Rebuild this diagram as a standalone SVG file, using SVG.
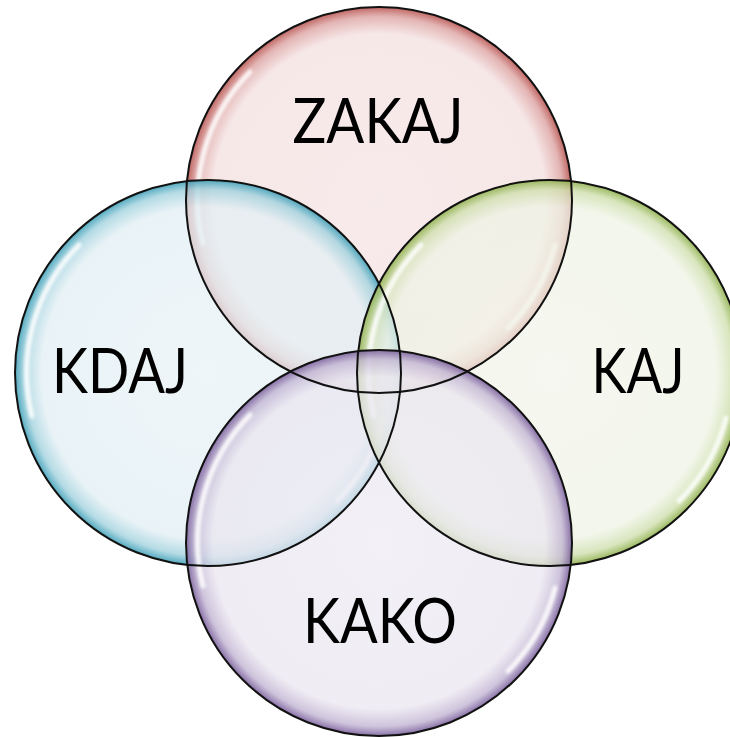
<svg xmlns="http://www.w3.org/2000/svg" width="730" height="737" viewBox="0 0 730 737">
<defs>
<radialGradient id="gRed" cx="0.5" cy="0.5" r="0.5">
<stop offset="0" stop-color="#f6e4e4" stop-opacity="0.75"/>
<stop offset="0.86" stop-color="#f4e0e0" stop-opacity="0.75"/>
<stop offset="0.95" stop-color="#dca3a2" stop-opacity="0.8"/>
<stop offset="1" stop-color="#b85450" stop-opacity="0.9"/>
</radialGradient>
<radialGradient id="gBlue" cx="0.5" cy="0.5" r="0.5">
<stop offset="0" stop-color="#e8f2f6" stop-opacity="0.75"/>
<stop offset="0.86" stop-color="#e2eff4" stop-opacity="0.75"/>
<stop offset="0.95" stop-color="#a2d2de" stop-opacity="0.8"/>
<stop offset="1" stop-color="#3e9fb8" stop-opacity="0.9"/>
</radialGradient>
<radialGradient id="gGreen" cx="0.5" cy="0.5" r="0.5">
<stop offset="0" stop-color="#f3f5eb" stop-opacity="0.75"/>
<stop offset="0.86" stop-color="#eff3e5" stop-opacity="0.75"/>
<stop offset="0.95" stop-color="#cfdfae" stop-opacity="0.8"/>
<stop offset="1" stop-color="#8fb04d" stop-opacity="0.9"/>
</radialGradient>
<radialGradient id="gPurple" cx="0.5" cy="0.5" r="0.5">
<stop offset="0" stop-color="#eeecf4" stop-opacity="0.75"/>
<stop offset="0.86" stop-color="#eae6f0" stop-opacity="0.75"/>
<stop offset="0.95" stop-color="#c2b5d3" stop-opacity="0.8"/>
<stop offset="1" stop-color="#7a5f9c" stop-opacity="0.9"/>
</radialGradient>
<filter id="blur" x="-10%" y="-10%" width="120%" height="120%"><feGaussianBlur stdDeviation="1.5"/></filter>
</defs>
<style>
.c{stroke:none}
.o{fill:none;stroke:#111;stroke-width:2}
.hl{fill:none;stroke:#fff;stroke-width:5;stroke-linecap:round;opacity:0.85;filter:url(#blur)}
.t{font-family:Lato,"Open Sans","Liberation Sans",sans-serif;font-size:62px;fill:#000;text-anchor:middle}
</style>
<g id="zakaj">
<circle class="c" cx="379" cy="200" r="193" fill="url(#gRed)"/>
<path class="hl" d="M 203 243 A 181 181 0 0 1 250 72"/>
<path class="hl" d="M 555 245 A 181 181 0 0 1 508 328"/>
</g>
<g id="kdaj">
<circle class="c" cx="208" cy="373" r="193" fill="url(#gBlue)"/>
<path class="hl" d="M 32 416 A 181 181 0 0 1 79 245"/>
<path class="hl" d="M 384 418 A 181 181 0 0 1 337 501"/>
</g>
<g id="kaj">
<circle class="c" cx="550" cy="373" r="193" fill="url(#gGreen)"/>
<path class="hl" d="M 374 416 A 181 181 0 0 1 421 245"/>
<path class="hl" d="M 726 418 A 181 181 0 0 1 679 501"/>
</g>
<g id="kako">
<circle class="c" cx="379" cy="543" r="193" fill="url(#gPurple)"/>
<path class="hl" d="M 203 586 A 181 181 0 0 1 250 415"/>
<path class="hl" d="M 555 588 A 181 181 0 0 1 508 671"/>
</g>
<g id="outlines">
<circle class="o" cx="379" cy="200" r="193"/>
<circle class="o" cx="208" cy="373" r="193"/>
<circle class="o" cx="550" cy="373" r="193"/>
<circle class="o" cx="379" cy="543" r="193"/>
</g>
<g id="labels">
<text class="t" x="378" y="143" textLength="171" lengthAdjust="spacingAndGlyphs">ZAKAJ</text>
<text class="t" x="120" y="393" textLength="136" lengthAdjust="spacingAndGlyphs">KDAJ</text>
<text class="t" x="638" y="393" textLength="93" lengthAdjust="spacingAndGlyphs">KAJ</text>
<text class="t" x="380" y="643" textLength="154" lengthAdjust="spacingAndGlyphs">KAKO</text>
</g>
<g id="connectors"/>
</svg>
